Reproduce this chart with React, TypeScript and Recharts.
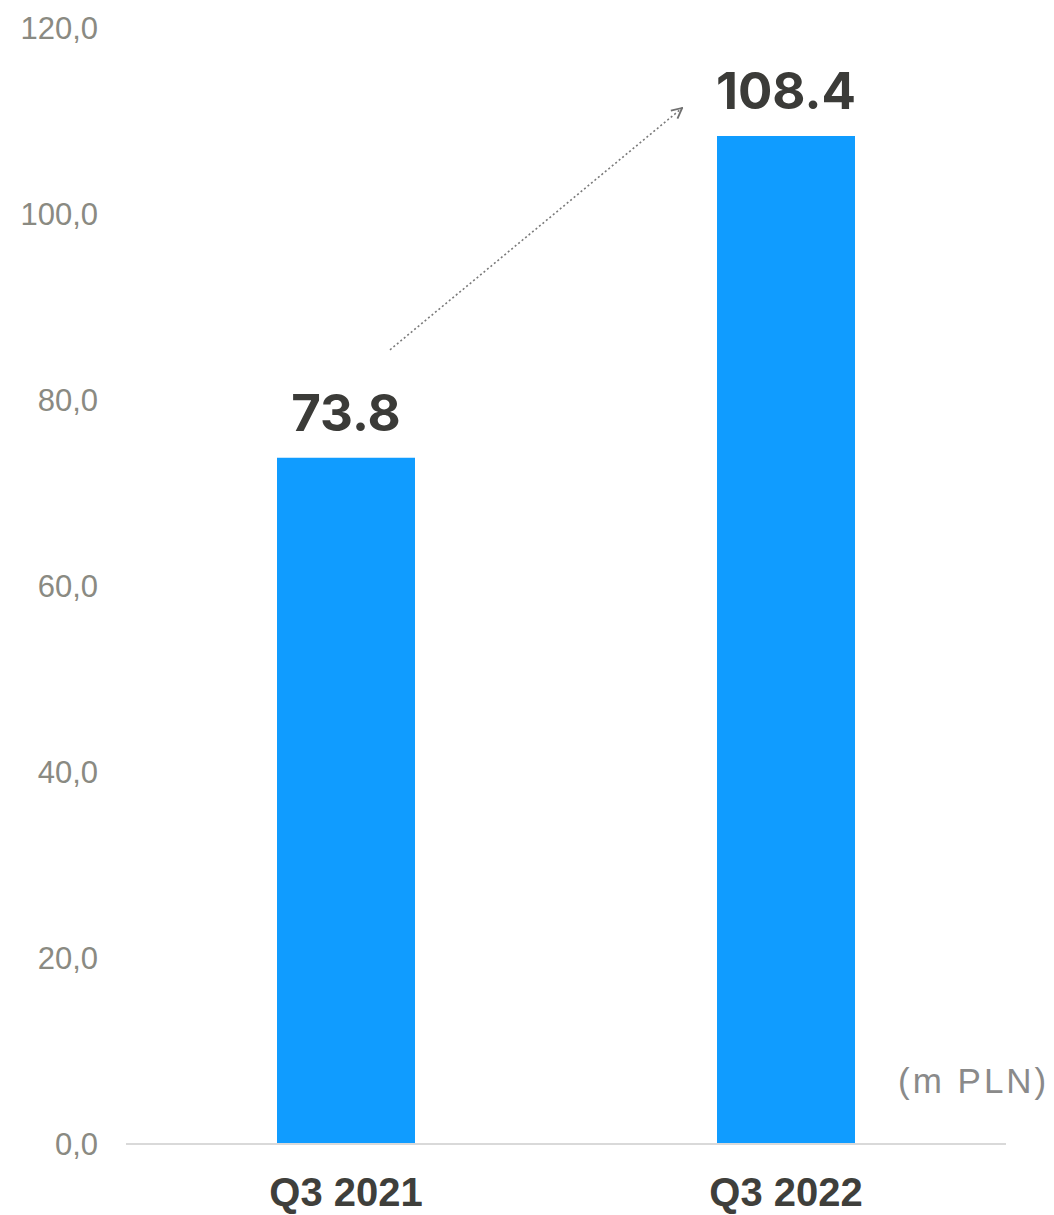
import React from 'react';
import { BarChart, Bar, XAxis, YAxis, LabelList, ReferenceLine } from 'recharts';

const categories = ['Q3 2021', 'Q3 2022'];
const values = [73.8, 108.4];
const yTicks = [0, 20, 40, 60, 80, 100, 120];
const unitLabel = '(m PLN)';
// arrow annotation endpoints: x as fraction of plot width, y in value units
const arrowFrom = { x: 0.3, y: 85.4 };
const arrowTo = { x: 0.632, y: 111.4 };

const data = categories.map((c, i) => ({ name: c, value: values[i] }));

const fmtTick = (v: number) => v.toFixed(1).replace('.', ',');

const ValueLabel = (props: any) => {
  const { x, y, width, value } = props;
  return (
    <text
      x={Number(x) + Number(width) / 2}
      y={Number(y) - 27}
      textAnchor="middle"
      fontFamily="Inter, 'Liberation Sans', sans-serif"
      fontWeight={700}
      fontSize={51}
      fill="#3b3b38"
    >
      {Number(value).toFixed(1)}
    </text>
  );
};

export default function App() {
  return (
    <div style={{ position: 'relative', width: 1046, height: 1207 }}>
      <BarChart
        width={1046}
        height={1207}
        data={data}
        margin={{ top: 20, right: 48, left: 0, bottom: 0 }}
      >
        <defs>
          <marker
            id="arrowHead"
            viewBox="0 0 10 10"
            refX="9"
            refY="5"
            markerWidth="13"
            markerHeight="13"
            markerUnits="userSpaceOnUse"
            orient="auto"
          >
            <path d="M1,1 L9,5 L1,9" fill="none" stroke="#707070" strokeWidth={1.4} />
          </marker>
        </defs>
        <XAxis
          dataKey="name"
          height={71}
          tickSize={0}
          tickMargin={34}
          tickLine={false}
          axisLine={{ stroke: '#d9d9d9', strokeWidth: 2 }}
          tick={{ fill: '#3f3f3b', fontSize: 40, fontWeight: 700, fontFamily: "'Liberation Sans', Arial, sans-serif" }}
        />
        <XAxis xAxisId="n" type="number" domain={[0, 1]} allowDataOverflow hide />
        <YAxis
          width={118}
          domain={[0, 120]}
          ticks={yTicks}
          tickFormatter={fmtTick}
          axisLine={false}
          tickLine={false}
          tickSize={0}
          tickMargin={28}
          tick={{ fill: '#8a8a82', fontSize: 31, fontFamily: "'Liberation Sans', Arial, sans-serif" }}
        />
        <Bar dataKey="value" fill="#109cff" barSize={138} isAnimationActive={false}>
          <LabelList dataKey="value" content={<ValueLabel />} />
        </Bar>
        <ReferenceLine
          xAxisId="n"
          segment={[arrowFrom, arrowTo]}
          stroke="#7a7a7a"
          strokeWidth={1.6}
          strokeDasharray="2 2.5"
          markerEnd="url(#arrowHead)"
          ifOverflow="visible"
        />
      </BarChart>
      <div
        style={{
          position: 'absolute',
          left: 890,
          top: 1053,
          fontFamily: "'Liberation Sans', Arial, sans-serif",
          fontSize: 35,
          letterSpacing: 3,
          color: '#8a8a8a',
          whiteSpace: 'nowrap',
          lineHeight: '40px',
        }}
      >
        {unitLabel}
      </div>
    </div>
  );
}
